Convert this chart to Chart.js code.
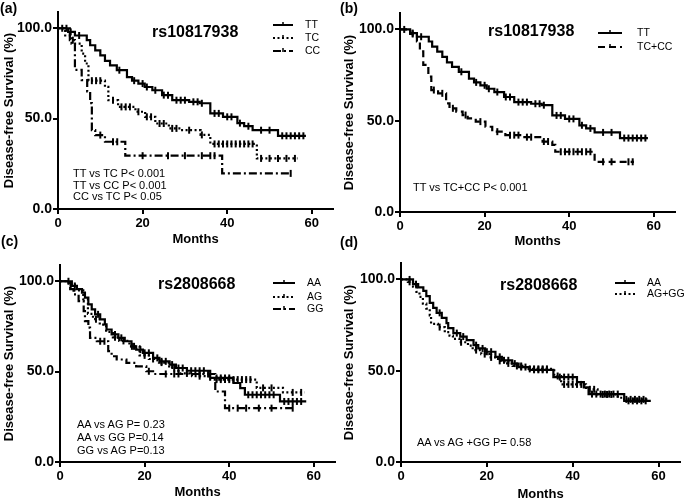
<!DOCTYPE html>
<html>
<head>
<meta charset="utf-8">
<script src="https://cdn.jsdelivr.net/npm/chart.js@4.4.1/dist/chart.umd.min.js"></script>
<style>
  body { margin: 0; background: #fff; width: 687px; height: 502px; position: relative; overflow: hidden;
         font-family: 'Liberation Sans', Arial, sans-serif; color: #000; }
  canvas { position: absolute; }
  .lbl { position: absolute; white-space: nowrap; line-height: 1; }
  .panel { font-size: 14px; font-weight: bold; }
  .rs { font-size: 16px; font-weight: bold; }
  .pv { font-size: 11px; }
</style>
</head>
<body>
<canvas id="pa" width="340" height="250" style="left:0;top:0"></canvas>
<canvas id="pb" width="347" height="250" style="left:340px;top:0"></canvas>
<canvas id="pc" width="340" height="252" style="left:0;top:250px"></canvas>
<canvas id="pd" width="347" height="252" style="left:340px;top:250px"></canvas>

<div class="lbl panel" style="left:0;top:1px">(a)</div>
<div class="lbl panel" style="left:340px;top:1px">(b)</div>
<div class="lbl panel" style="left:1px;top:234px">(c)</div>
<div class="lbl panel" style="left:340px;top:235px">(d)</div>

<div class="lbl rs" style="left:152px;top:24px">rs10817938</div>
<div class="lbl rs" style="left:488px;top:23px">rs10817938</div>
<div class="lbl rs" style="left:158px;top:276px">rs2808668</div>
<div class="lbl rs" style="left:500px;top:277px">rs2808668</div>

<div class="lbl pv" style="left:73px;top:168px">TT vs TC P&lt; 0.001</div>
<div class="lbl pv" style="left:73px;top:180px">TT vs CC P&lt; 0.001</div>
<div class="lbl pv" style="left:73px;top:191px">CC vs TC P&lt; 0.05</div>
<div class="lbl pv" style="left:413px;top:182px">TT vs TC+CC P&lt; 0.001</div>
<div class="lbl pv" style="left:77px;top:419px">AA vs AG P= 0.23</div>
<div class="lbl pv" style="left:77px;top:432px">AA vs GG P=0.14</div>
<div class="lbl pv" style="left:77px;top:445px">GG vs AG P=0.13</div>
<div class="lbl pv" style="left:417px;top:437px">AA vs AG +GG P= 0.58</div>

<script>
// axis ticks
const monthTicks = [0, 20, 40, 60];
const survivalTicks = [0, 50, 100];

// rs10817938 -- drop times (months), survival after drop (%), censor times
const ttTimes = [0, 2.4, 4, 6.8, 7.6, 8.8, 10, 11.1, 12.3, 13.9, 16.3, 17.5, 19, 20.5, 22.3, 24.6, 27, 31, 33.5, 36, 39, 42.4, 44, 46, 52, 58.6];
const ttSurv  = [100, 98, 96, 93.4, 90.6, 87.8, 85, 82, 79.5, 76.8, 73, 71, 69.4, 67.5, 65.7, 63, 60.2, 59.3, 58.5, 52.9, 51, 47.5, 45.8, 43.6, 40.5, 40.5];
const ttCens  = [1, 3, 5, 14.5, 18, 20, 21, 23, 25, 26, 28, 29, 30, 32, 33, 34, 37, 38, 40, 41, 43, 45, 48, 50, 53, 54, 55, 56, 57, 58];

const tcTimes = [0, 1.7, 3.2, 5.6, 6.4, 7.2, 11.1, 11.9, 14.2, 18.3, 20.6, 23, 26.2, 29, 33.7, 36, 47, 56.6];
const tcSurv  = [100, 96, 91.5, 86, 80.5, 71, 67.6, 60.2, 56.5, 53.8, 51, 47.3, 44.6, 43.6, 41, 36, 28, 28];
const tcCens  = [8, 9, 10, 13, 15, 16, 17, 19, 21, 22, 24, 25, 27, 28, 31, 34, 37, 38, 39, 40, 41, 42, 43, 44, 45, 46, 48, 50, 52, 54, 56];

const ccTimes = [0, 2.8, 4, 5.6, 6.9, 7.6, 8, 8.8, 11.1, 15.9, 38.8, 55];
const ccSurv  = [100, 93.4, 77, 71.3, 65, 58.6, 43.6, 40.9, 37.2, 29.5, 19.7, 19.7];
const ccCens  = [2, 3.5, 10, 13, 14, 20, 26, 30, 34, 36, 37, 55];

const tcccTimes = [0, 2.4, 4, 4.7, 5.5, 6.7, 7.4, 9, 10.9, 11.7, 13.3, 14.8, 16, 17.9, 20.2, 21.8, 24.9, 29, 33.7, 36, 36.7, 46, 55.3];
const tcccSurv  = [100, 97.5, 93.4, 88, 80.6, 74.2, 66.8, 65, 59.5, 56.8, 55, 53.1, 51.3, 49.5, 46.7, 44, 42.1, 41, 38.6, 36.8, 33, 27.5, 27.5];
const tcccCens  = [3, 8, 10, 12.5, 15.5, 19, 23, 26, 27, 28, 30, 31, 34, 35, 38, 39, 40, 41, 42, 43, 44, 45, 48, 50, 54, 55];

// rs2808668
const aaTimes = [0, 2.8, 4, 5.2, 5.9, 6.7, 7.5, 8.3, 9.5, 10.6, 11, 12.2, 13.8, 15.3, 16.9, 18, 19.6, 22, 23.5, 25.9, 27.4, 30, 35.5, 41, 42.6, 43.7, 52, 58.2];
const aaSurv  = [100, 97.4, 95.6, 93.7, 90.9, 87.2, 84.4, 81.7, 78.9, 76.1, 73.3, 70.6, 68.7, 66.8, 64, 62.2, 60.4, 57.6, 55.7, 53.9, 52, 50.5, 46.5, 43.7, 40.9, 37.2, 33.5, 33.5];
const aaCens  = [2, 3.5, 9, 13, 14.5, 17.5, 19, 20, 21, 23, 24, 25, 26.5, 28, 29, 31, 32, 33, 34, 37, 38, 39, 40, 44.5, 45.5, 46.5, 47.5, 48.5, 49.5, 50.5, 53, 54, 55, 56, 57];

const agTimes = [0, 2, 3.5, 5.5, 6.6, 7.8, 9.4, 10.9, 12.5, 14, 16.4, 18.8, 21, 23.4, 25.8, 28, 31.2, 35.5, 46.5, 52.7, 57.8];
const agSurv  = [100, 98, 95, 90, 82, 79, 76, 72, 69, 67, 64, 59, 57, 55, 52, 49, 47.5, 45.6, 41, 38.5, 38.5];
const agCens  = [2.5, 8.5, 13, 15, 17, 20, 22, 24, 27, 30, 33, 37, 38, 39, 40, 41, 42, 43, 44, 45, 48, 50, 55, 57];

const ggTimes = [0, 2.4, 3.2, 4.4, 5.6, 5.9, 6.7, 7.1, 8.7, 11.4, 12.2, 13.4, 15.7, 18, 20.4, 22, 36.7, 39, 55];
const ggSurv  = [100, 95.6, 92.8, 89, 83.5, 78, 74.3, 68.7, 66.8, 61.3, 58.5, 56.7, 54.8, 52.9, 50.2, 48.7, 39, 29.8, 29.8];
const ggCens  = [9.5, 10.5, 21, 25, 27, 28, 33, 35, 40, 42, 44, 47, 50, 55];

const agggTimes = [0, 1.6, 2.8, 3.6, 4.3, 5.1, 5.9, 6.7, 7, 8.6, 10.2, 11.3, 12.1, 13.6, 15.6, 16.7, 18.7, 20.6, 22.6, 24.1, 26, 29, 35.7, 37.3, 43.1, 45.8, 50.5, 51.6, 57.4];
const agggSurv  = [100, 98.7, 96, 93.2, 90.4, 86.7, 84, 80.3, 75.7, 73.9, 71.1, 69.2, 67.4, 65.6, 63.7, 61.3, 59.1, 57.3, 55.4, 54, 52.6, 51, 47.1, 42.5, 39.8, 37, 35.2, 34.3, 34.3];
const agggCens  = [2, 9, 14, 17.5, 19.5, 21, 23, 25, 27, 28, 30, 31, 32, 33, 34, 36.5, 38, 39, 40, 41, 42, 44, 45, 47, 48, 49, 52.5, 53.5, 54.5, 55.5, 56.5];

const SOLID = [], DOTTED = [2, 2.5], DASHDOT = [8, 3, 2, 3], DASHED = [7, 4];

// survival value of a step curve at time x
function stepAt(times, surv, x) {
    let v = surv[0];
    for (let i = 0; i < times.length; i++) {
        if (times[i] <= x) v = surv[i];
    }
    return v;
}

function curveSets(label, times, surv, cens, dash) {
    return [
        {
            label: label,
            isCurve: true,
            data: times.map((t, i) => ({ x: t, y: surv[i] })),
            stepped: true,
            borderColor: '#000',
            borderWidth: 2.2,
            borderDash: dash,
            pointRadius: 0,
            fill: false,
        },
        {
            label: label + ' censored',
            data: cens.map((t) => ({ x: t, y: stepAt(times, surv, t) })),
            showLine: false,
            pointStyle: 'line',
            rotation: 90,
            pointRadius: 3.5,
            borderWidth: 2,
            borderColor: '#000',
        },
    ]
}

// legend drawn GraphPad style: line sample with a censor tick, then label
const kmLegend = {
    id: 'kmLegend',
    afterDraw(chart, args, opts) {
        const ctx = chart.ctx;
        let row = 0;
        chart.data.datasets.forEach((ds) => {
            if (!ds.isCurve) return;
            const y = opts.rows[row++];
            ctx.save();
            ctx.strokeStyle = '#000';
            ctx.lineWidth = 2;
            ctx.setLineDash(ds.borderDash);
            ctx.beginPath();
            ctx.moveTo(opts.x1, y);
            ctx.lineTo(opts.x2, y);
            ctx.stroke();
            ctx.setLineDash([]);
            ctx.lineWidth = 1.5;
            const mx = (opts.x1 + opts.x2) / 2;
            ctx.beginPath();
            ctx.moveTo(mx, y - 3);
            ctx.lineTo(mx, y + 1);
            ctx.stroke();
            ctx.fillStyle = '#000';
            ctx.font = '10.5px "Liberation Sans", Arial, sans-serif';
            ctx.textBaseline = 'middle';
            ctx.fillText(ds.label, opts.tx, y);
            ctx.restore();
        });
    },
};

Chart.defaults.font.family = '"Liberation Sans", Arial, sans-serif';
Chart.defaults.color = '#000';

function makePanel(id, box, datasets, legend) {
    const W = box.w, H = box.h;
    return new Chart(document.getElementById(id), {
        type: 'line',
        data: { datasets: datasets },
        plugins: [kmLegend],
        options: {
            responsive: false,
            animation: false,
            events: [],
            devicePixelRatio: 1,
            layout: {
                autoPadding: false,
                padding: { left: 0, top: box.t, right: W - box.r, bottom: 0 },
            },
            plugins: {
                legend: { display: false },
                tooltip: { enabled: false },
                kmLegend: legend,
            },
            scales: {
                x: {
                    type: 'linear',
                    min: 0,
                    max: 65,
                    afterBuildTicks: (s) => { s.ticks = monthTicks.map((v) => ({ value: v })) },
                    afterFit: (s) => { s.height = H - box.b },
                    border: { display: true, color: '#000', width: 2 },
                    grid: { drawOnChartArea: false, drawTicks: true, tickLength: 5, color: '#000', lineWidth: 2 },
                    ticks: { font: { size: 13, weight: 'bold' }, padding: 2, maxRotation: 0 },
                    title: { display: true, text: 'Months', font: { size: 13, weight: 'bold' }, padding: { bottom: box.mt } },
                },
                y: {
                    min: 0,
                    max: 109,
                    afterBuildTicks: (s) => { s.ticks = survivalTicks.map((v) => ({ value: v })) },
                    afterFit: (s) => { s.width = box.l },
                    border: { display: true, color: '#000', width: 2 },
                    grid: { drawOnChartArea: false, drawTicks: true, tickLength: 5, color: '#000', lineWidth: 2 },
                    ticks: { font: { size: 14, weight: 'bold' }, padding: 1, callback: (v) => v.toFixed(1) },
                    title: { display: true, text: 'Disease-free Survival (%)', font: { size: 13, weight: 'bold' }, padding: { top: 2 } },
                },
            },
        },
    });
}

makePanel('pa', { w: 340, h: 250, l: 58, t: 12, r: 333, b: 209, mt: 3 },
    [].concat(
        curveSets('TT', ttTimes, ttSurv, ttCens, SOLID),
        curveSets('TC', tcTimes, tcSurv, tcCens, DOTTED),
        curveSets('CC', ccTimes, ccSurv, ccCens, DASHDOT)),
    { x1: 273, x2: 293, tx: 305, rows: [25, 38, 51] });

makePanel('pb', { w: 347, h: 250, l: 60, t: 13, r: 335, b: 212, mt: 1 },
    [].concat(
        curveSets('TT', ttTimes, ttSurv, ttCens, SOLID),
        curveSets('TC+CC', tcccTimes, tcccSurv, tcccCens, DASHED)),
    { x1: 258, x2: 282, tx: 297, rows: [33, 47] });

makePanel('pc', { w: 340, h: 252, l: 60, t: 15, r: 335, b: 212, mt: 2 },
    [].concat(
        curveSets('AA', aaTimes, aaSurv, aaCens, SOLID),
        curveSets('AG', agTimes, agSurv, agCens, DOTTED),
        curveSets('GG', ggTimes, ggSurv, ggCens, DASHDOT)),
    { x1: 273, x2: 295, tx: 307, rows: [33, 47, 59] });

makePanel('pd', { w: 347, h: 252, l: 61, t: 13, r: 340, b: 212, mt: 0 },
    [].concat(
        curveSets('AA', aaTimes, aaSurv, aaCens, SOLID),
        curveSets('AG+GG', agggTimes, agggSurv, agggCens, DOTTED)),
    { x1: 275, x2: 295, tx: 307, rows: [33, 44] });
</script>
</body>
</html>
